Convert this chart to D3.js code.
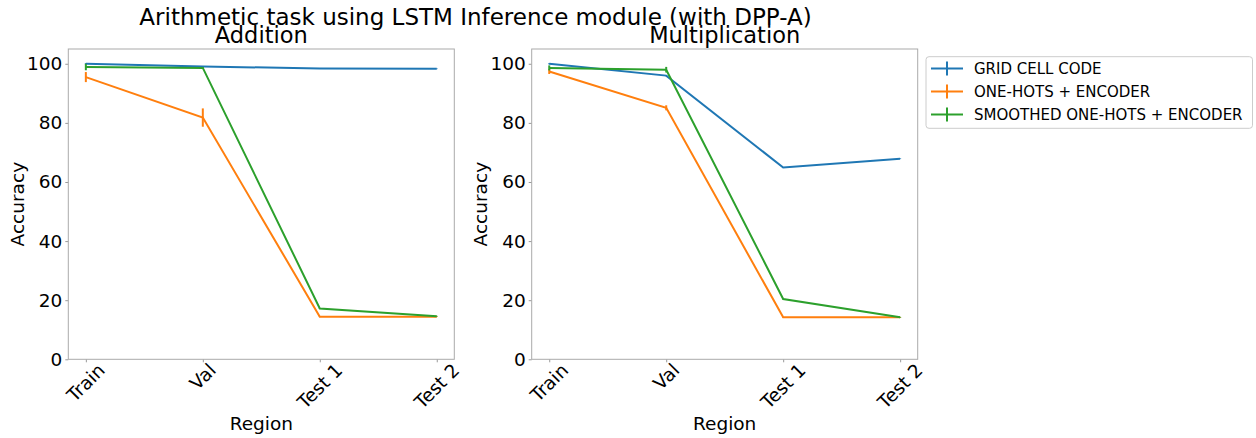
<!DOCTYPE html>
<html>
<head>
<meta charset="utf-8">
<script src="https://cdn.jsdelivr.net/npm/d3@7"></script>
<style>
  body { margin: 0; background: #fff; }
  text { font-family: "DejaVu Sans", sans-serif; fill: #000; }
</style>
</head>
<body>
<div id="chart"></div>
<script>
const regions = ['Train', 'Val', 'Test 1', 'Test 2'];
const seriesNames = ['GRID CELL CODE', 'ONE-HOTS + ENCODER', 'SMOOTHED ONE-HOTS + ENCODER'];
const seriesColors = ['#1f77b4', '#ff7f0e', '#2ca02c'];
const yTicks = [0, 20, 40, 60, 80, 100];

// Addition panel: means and errors per region
const addGrid = [100, 99.1, 98.4, 98.3];
const addGridErr = [0.2, 0.1, 0.1, 0.1];
const addOneHot = [95.5, 81.8, 14.4, 14.4];
const addOneHotErr = [1.7, 3.1, 0.1, 0.1];
const addSmooth = [98.9, 98.6, 17.2, 14.6];
const addSmoothErr = [1.1, 0.3, 0.1, 0.1];

// Multiplication panel
const mulGrid = [100, 96.0, 64.9, 67.9];
const mulGridErr = [0.2, 0.2, 0.1, 0.1];
const mulOneHot = [97.4, 85.1, 14.2, 14.2];
const mulOneHotErr = [0.85, 0.85, 0.1, 0.1];
const mulSmooth = [98.6, 98.0, 20.4, 14.2];
const mulSmoothErr = [0.85, 0.95, 0.1, 0.1];

const panels = [
  { title: 'Addition', left: 68.3,
    series: [[addGrid, addGridErr], [addOneHot, addOneHotErr], [addSmooth, addSmoothErr]] },
  { title: 'Multiplication', left: 531.7,
    series: [[mulGrid, mulGridErr], [mulOneHot, mulOneHotErr], [mulSmooth, mulSmoothErr]] }
];

const W = 1256, H = 438;
const axW = 386, axTop = 49, axBottom = 359.3;

const svg = d3.select('#chart').append('svg')
      .attr('width', W)
      .attr('height', H);

svg.append('text')
  .attr('x', 475.5)
  .attr('y', 24.5)
  .attr('text-anchor', 'middle')
  .style('font-size', '23px')
  .text('Arithmetic task using LSTM Inference module (with DPP-A)');

const scaleY = d3.scaleLinear().domain([0, 105]).range([axBottom, axTop]);

panels.forEach((panel) => {
  const scaleX = d3.scaleLinear()
        .domain([-0.15, regions.length - 1 + 0.15])
        .range([panel.left, panel.left + axW]);

  const g = svg.append('g');

  g.append('text')
    .attr('x', panel.left + axW / 2)
    .attr('y', 43)
    .attr('text-anchor', 'middle')
    .style('font-size', '22.5px')
    .text(panel.title);

  const axisY = d3.axisLeft(scaleY)
        .tickValues(yTicks)
        .tickSize(3)
        .tickPadding(3);
  const yAxisG = g.append('g')
        .attr('transform', `translate(${panel.left},0)`)
        .call(axisY);
  yAxisG.select('.domain').remove();
  yAxisG.selectAll('.tick line').attr('stroke', '#999');
  yAxisG.selectAll('.tick text')
    .style('font-size', '18.5px')
    .style('font-family', '"DejaVu Sans", sans-serif');

  const axisX = d3.axisBottom(scaleX)
        .tickValues(d3.range(regions.length))
        .tickSize(3)
        .tickFormat(() => '');
  const xAxisG = g.append('g')
        .attr('transform', `translate(0,${axBottom})`)
        .call(axisX);
  xAxisG.select('.domain').remove();
  xAxisG.selectAll('.tick line').attr('stroke', '#999');

  // rotated tick labels, bbox centred on the tick
  regions.forEach((label, i) => {
    const t = g.append('text')
          .style('font-size', '18.5px')
          .attr('text-anchor', 'middle')
          .attr('dy', '0.35em')
          .text(label);
    const w = t.node().getComputedTextLength();
    const cx = scaleX(i);
    const cy = axBottom + 3 + (w + 13) / (2 * Math.SQRT2);
    t.attr('transform', `translate(${cx},${cy}) rotate(-45)`);
  });

  g.append('rect')
    .attr('x', panel.left)
    .attr('y', axTop)
    .attr('width', axW)
    .attr('height', axBottom - axTop)
    .attr('fill', 'none')
    .attr('stroke', '#aaa')
    .attr('stroke-width', 1);

  g.append('text')
    .attr('x', panel.left + axW / 2)
    .attr('y', 430)
    .attr('text-anchor', 'middle')
    .style('font-size', '18.5px')
    .text('Region');

  g.append('text')
    .attr('transform', `translate(${panel.left - 44.5},${(axTop + axBottom) / 2}) rotate(-90)`)
    .attr('text-anchor', 'middle')
    .style('font-size', '18.5px')
    .text('Accuracy');

  const line = d3.line()
        .x((d, i) => scaleX(i))
        .y((d) => scaleY(d));

  panel.series.forEach(([values, errs], s) => {
    g.append('path')
      .datum(values)
      .attr('d', line)
      .attr('fill', 'none')
      .attr('stroke', seriesColors[s])
      .attr('stroke-width', 2);

    g.selectAll(null)
      .data(values)
      .join('line')
      .attr('x1', (d, i) => scaleX(i))
      .attr('x2', (d, i) => scaleX(i))
      .attr('y1', (d, i) => scaleY(d - errs[i]))
      .attr('y2', (d, i) => scaleY(d + errs[i]))
      .attr('stroke', seriesColors[s])
      .attr('stroke-width', 2);
  });
});

// legend
const legend = svg.append('g');
legend.append('rect')
  .attr('x', 926)
  .attr('y', 56.7)
  .attr('width', 326.5)
  .attr('height', 71.6)
  .attr('rx', 3)
  .attr('fill', '#fff')
  .attr('stroke', '#ccc');

seriesNames.forEach((name, i) => {
  const y = 68.5 + i * 23;
  legend.append('line')
    .attr('x1', 931).attr('x2', 963)
    .attr('y1', y).attr('y2', y)
    .attr('stroke', seriesColors[i])
    .attr('stroke-width', 2);
  legend.append('line')
    .attr('x1', 947).attr('x2', 947)
    .attr('y1', y - 7).attr('y2', y + 7)
    .attr('stroke', seriesColors[i])
    .attr('stroke-width', 2);
  legend.append('text')
    .attr('x', 974)
    .attr('y', y)
    .attr('dy', '0.35em')
    .style('font-size', '15px')
    .text(name);
});
</script>
</body>
</html>
